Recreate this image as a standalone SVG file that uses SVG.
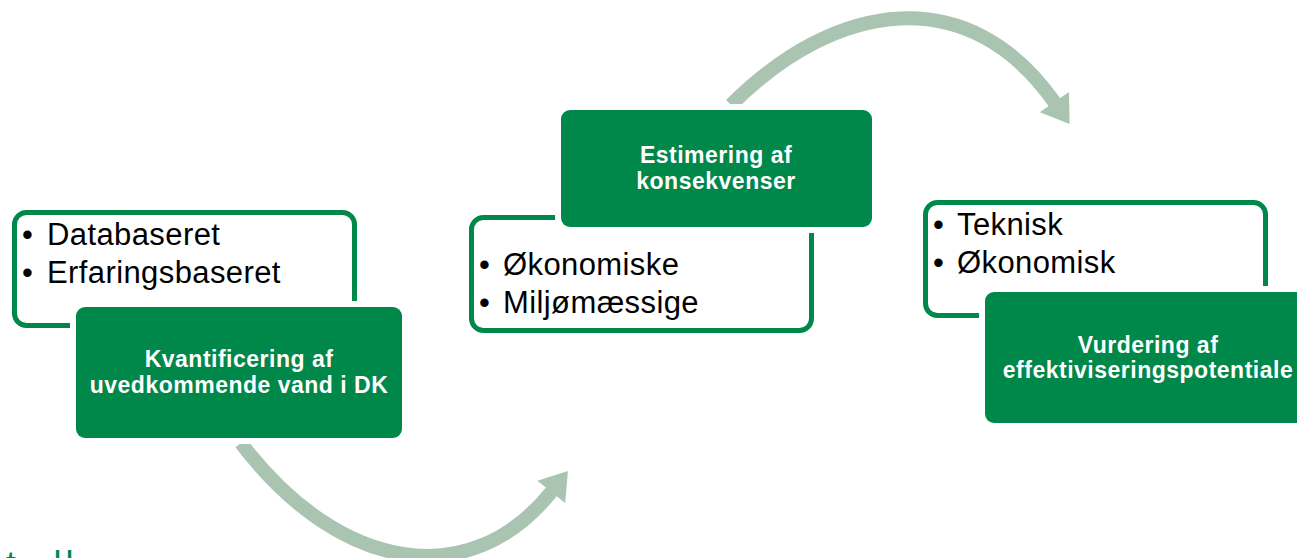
<svg xmlns="http://www.w3.org/2000/svg" width="1297" height="558" viewBox="0 0 1297 558">
<style>
.outline{fill:#ffffff;stroke:#00874A;stroke-width:5}
.box{fill:#00874A;stroke:#ffffff;stroke-width:12;paint-order:stroke fill}
.bul{font-family:"Liberation Sans",Arial,sans-serif;font-size:31px;letter-spacing:0.4px;fill:#000000}
.hdr{font-family:"Liberation Sans",Arial,sans-serif;font-size:23px;font-weight:bold;letter-spacing:0.5px;fill:#ffffff;text-anchor:middle}
.arc{fill:none;stroke:#A9C4B0;stroke-width:14}
.cut{font-family:"Liberation Sans",Arial,sans-serif;font-size:36px;fill:#00874A}
</style>
<defs>
<marker id="head" markerUnits="userSpaceOnUse" markerWidth="40" markerHeight="40" refX="0" refY="0" viewBox="-2 -18 28 36" orient="auto" overflow="visible">
<polygon points="-1,-16 23,0 -1,16" fill="#A9C4B0"/>
</marker>
</defs>
<g id="connectors">
<path class="arc" d="M241,443 C339,572 470,594 552,491" marker-end="url(#head)"/>
<path class="arc" d="M731,105 C836,0 969,-20 1055,103" marker-end="url(#head)"/>
</g>
<g id="node1">
<rect class="outline" x="14.5" y="212.5" width="340" height="113" rx="12"/>
<text class="bul" x="22" y="245">•</text>
<text class="bul" x="47" y="245">Databaseret</text>
<text class="bul" x="22" y="283">•</text>
<text class="bul" x="47" y="283">Erfaringsbaseret</text>
<rect class="box" x="76" y="307" width="326" height="131" rx="9"/>
<text class="hdr" x="239" y="367">Kvantificering af</text>
<text class="hdr" x="239" y="393">uvedkommende vand i DK</text>
</g>
<g id="node2">
<rect class="outline" x="471.5" y="217.5" width="340" height="113" rx="12"/>
<text class="bul" x="479" y="275">•</text>
<text class="bul" x="503" y="275">Økonomiske</text>
<text class="bul" x="479" y="313">•</text>
<text class="bul" x="503" y="313">Miljømæssige</text>
<rect class="box" x="561" y="110" width="311" height="117" rx="9"/>
<text class="hdr" x="716" y="163">Estimering af</text>
<text class="hdr" x="716" y="189">konsekvenser</text>
</g>
<g id="node3">
<rect class="outline" x="925.5" y="202.5" width="340" height="113" rx="12"/>
<text class="bul" x="933" y="235">•</text>
<text class="bul" x="957" y="235">Teknisk</text>
<text class="bul" x="933" y="273">•</text>
<text class="bul" x="957" y="273">Økonomisk</text>
<rect class="box" x="985" y="292" width="326" height="131" rx="9"/>
<text class="hdr" x="1148" y="353">Vurdering af</text>
<text class="hdr" x="1148" y="378">effektiviseringspotentiale</text>
</g>
<text class="cut" y="577"><tspan x="6">t</tspan><tspan x="53.5">l</tspan><tspan x="65.5">l</tspan></text>
</svg>
